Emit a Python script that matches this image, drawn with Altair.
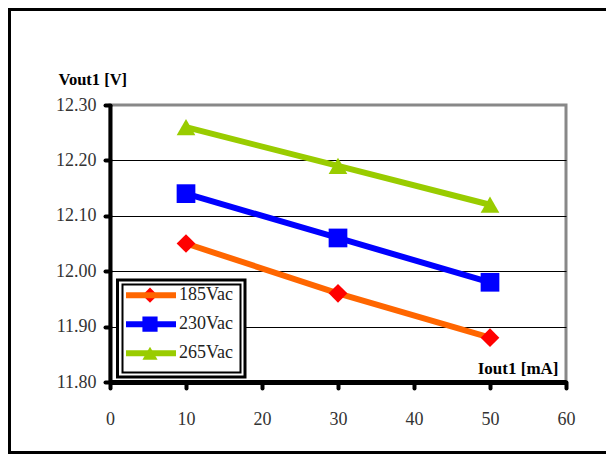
import altair as alt
import pandas as pd

iout = [10, 30, 50]
series = ["185Vac", "230Vac", "265Vac"]
v185 = [12.05, 11.96, 11.88]
v230 = [12.14, 12.06, 11.98]
v265 = [12.26, 12.19, 12.12]
x_ticks = [0, 10, 20, 30, 40, 50, 60]
y_ticks = [11.80, 11.90, 12.00, 12.10, 12.20, 12.30]
line_colors = ["#FF6600", "#0000FF", "#99CC00"]
marker_colors = ["#FF0000", "#0000FF", "#99CC00"]
marker_shapes = ["diamond", "square", "triangle-up"]

rows = []
for name, vals in zip(series, [v185, v230, v265]):
    for xv, yv in zip(iout, vals):
        rows.append({"series": name, "iout": xv, "vout": yv})
df = pd.DataFrame(rows)

FONT = "Liberation Serif"
W, H = 456, 277

x_enc = alt.X(
    "iout:Q",
    scale=alt.Scale(domain=[0, 60], nice=False, zero=False),
    axis=alt.Axis(
        values=x_ticks, title="Iout1 [mA]", grid=False,
        domainColor="black", domainWidth=5,
        tickColor="black", tickWidth=4, tickSize=6, tickCap="round",
        labelFont=FONT, labelFontSize=18, labelColor="#333333", labelPadding=22,
        labelFlush=False, labelOverlap=False,
        titleFont=FONT, titleFontSize=17, titleFontWeight="bold", titleColor="black",
        titleX=448, titleY=-9, titleAlign="right", titleBaseline="alphabetic",
    ),
)
y_enc = alt.Y(
    "vout:Q",
    scale=alt.Scale(domain=[11.8, 12.3], nice=False, zero=False),
    axis=alt.Axis(
        values=y_ticks, format=".2f", title="Vout1 [V]",
        grid=True, gridColor="black", gridWidth=1,
        gridOpacity=alt.ExprRef(expr="datum.value > 11.85 && datum.value < 12.25 ? 1 : 0"),
        domainColor="black", domainWidth=4,
        tickColor="black", tickWidth=4, tickSize=5, tickCap="round",
        labelFont=FONT, labelFontSize=18, labelColor="#333333", labelPadding=9,
        labelOverlap=False,
        titleFont=FONT, titleFontSize=16.5, titleFontWeight="bold", titleColor="black",
        titleAngle=0, titleX=-52, titleY=-21, titleAlign="left", titleBaseline="alphabetic",
    ),
)

base = alt.Chart(df)

lines = base.mark_line(strokeWidth=6).encode(
    x=x_enc, y=y_enc,
    color=alt.Color(
        "series:N",
        scale=alt.Scale(domain=series, range=line_colors),
        legend=alt.Legend(
            title=None, orient="none", legendX=13, legendY=176,
            symbolType="stroke", symbolSize=2500, symbolStrokeWidth=6,
            labelFont=FONT, labelFontSize=18, labelColor="#222222",
            labelOffset=0, rowPadding=0, clipHeight=28.4, padding=0,
        ),
    ),
    detail="series:N",
)

marker_legend = alt.Legend(
    title=None, orient="none", legendX=32, legendY=176,
    symbolSize=230, symbolStrokeWidth=0,
    labelExpr="''", labelFontSize=1, labelOpacity=0,
    labelOffset=0, rowPadding=0, clipHeight=28.4, padding=0,
)
points = base.mark_point(filled=True, opacity=1, strokeWidth=0, size=350).encode(
    x="iout:Q", y="vout:Q",
    fill=alt.Fill("series:N", scale=alt.Scale(domain=series, range=marker_colors), legend=marker_legend),
    shape=alt.Shape("series:N", scale=alt.Scale(domain=series, range=marker_shapes), legend=marker_legend),
)

one = pd.DataFrame({"k": [0]})
frame = alt.Chart(one).mark_rect(fill="transparent", stroke="black", strokeWidth=3).encode(
    x=alt.value(-100.5), x2=alt.value(600), y=alt.value(-95.5), y2=alt.value(347.5)
)
legend_outer = alt.Chart(one).mark_rect(fill="white", stroke="black", strokeWidth=3).encode(
    x=alt.value(7.5), x2=alt.value(135), y=alt.value(175), y2=alt.value(272)
)
legend_inner = alt.Chart(one).mark_rect(fill="transparent", stroke="black", strokeWidth=2).encode(
    x=alt.value(12.5), x2=alt.value(130.5), y=alt.value(179.5), y2=alt.value(267.5)
)

chart = alt.layer(frame, lines, points, legend_outer, legend_inner).resolve_scale(
    color="independent"
).properties(
    width=W, height=H,
    autosize=alt.AutoSizeParams(type="none"),
    padding={"left": 102, "top": 97, "right": 40, "bottom": 72},
    background="white",
).configure_view(stroke="#888888", strokeWidth=3)

chart.save("out.html", embed_options={"renderer": "svg", "actions": False})
